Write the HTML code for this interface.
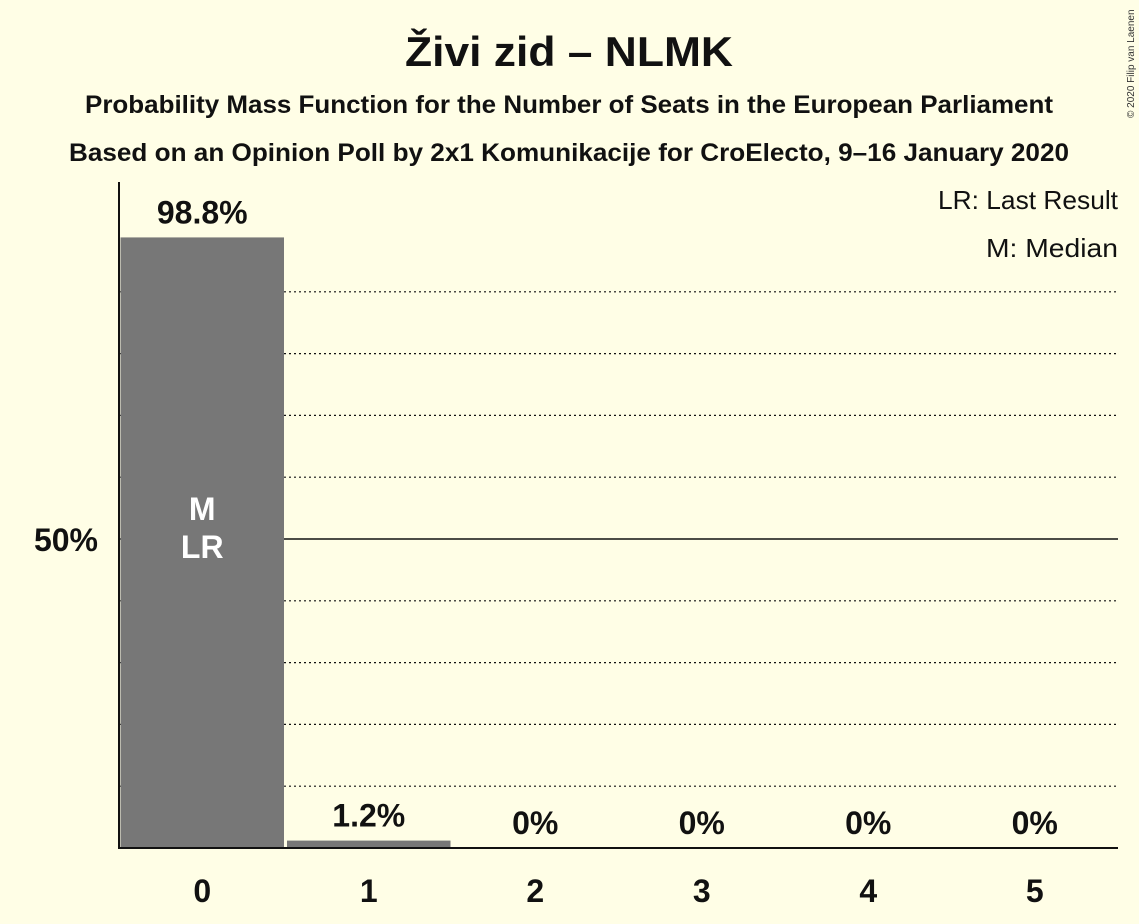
<!DOCTYPE html>
<html><head><meta charset="utf-8"><style>
body{margin:0;background:#fffee6;}
svg{display:block;font-family:"Liberation Sans",sans-serif;}
</style></head><body>
<svg id="chart" width="1139" height="924">
<rect width="1139" height="924" fill="#fffee6"/>
<text x="569" y="66" text-anchor="middle" font-size="42" font-weight="bold" fill="#111" textLength="328" lengthAdjust="spacingAndGlyphs">Živi zid – NLMK</text>
<text x="569" y="113" text-anchor="middle" font-size="25" font-weight="bold" fill="#111" textLength="968" lengthAdjust="spacingAndGlyphs">Probability Mass Function for the Number of Seats in the European Parliament</text>
<text x="569" y="161" text-anchor="middle" font-size="25" font-weight="bold" fill="#111" textLength="1000" lengthAdjust="spacingAndGlyphs">Based on an Opinion Poll by 2x1 Komunikacije for CroElecto, 9–16 January 2020</text>
<text x="1134" y="118" font-size="10" fill="#333" transform="rotate(-90 1134 118)">© 2020 Filip van Laenen</text>
<text x="1118" y="209" text-anchor="end" font-size="26" fill="#111" textLength="180" lengthAdjust="spacingAndGlyphs">LR: Last Result</text>
<text x="1118" y="257" text-anchor="end" font-size="26" fill="#111" textLength="132" lengthAdjust="spacingAndGlyphs">M: Median</text>
<g id="grid"></g>
<g id="bars"></g>
<line x1="119" y1="182" x2="119" y2="849" stroke="#111" stroke-width="2"/>
<line x1="118" y1="848" x2="1118" y2="848" stroke="#111" stroke-width="2"/>
<text x="98" y="551" text-anchor="end" font-size="32" font-weight="bold" fill="#111">50%</text>
</svg>
<script>
const categories=[0,1,2,3,4,5];
const values=[98.8,1.2,0,0,0,0];
const labels=["98.8%","1.2%","0%","0%","0%","0%"];
const gridTicks=[10,20,30,40,50,60,70,80,90];
const NS="http://www.w3.org/2000/svg";
const x0=119,x1=1118,yb=848,y50=539;
const bw=(x1-x0)/categories.length;
const y=v=>yb-(yb-y50)/50*v;
const g=document.getElementById('grid'),b=document.getElementById('bars');
gridTicks.forEach(t=>{
 const l=document.createElementNS(NS,'line');
 
 
 l.setAttribute('x1',x0);l.setAttribute('x2',x1);l.setAttribute('y1',y(t));l.setAttribute('y2',y(t));
 l.setAttribute('stroke','#111');
 if(t===50){l.setAttribute('stroke-width','1.5');}else{l.setAttribute('stroke-width','1.2');l.setAttribute('stroke-dasharray','2,3');}
 g.appendChild(l);
});
categories.forEach((c,i)=>{
 const cx=x0+bw*(i+0.5);
 const r=document.createElementNS(NS,'rect');
 
 
 r.setAttribute('x',x0+bw*i+1.5);r.setAttribute('width',bw-3);
 r.setAttribute('y',y(values[i]));r.setAttribute('height',yb-y(values[i]));
 r.setAttribute('fill','#777');
 b.appendChild(r);
 const t=document.createElementNS(NS,'text');
 
 
 t.setAttribute('x',cx);t.setAttribute('y',Math.min(y(values[i]),yb)-14);
 t.setAttribute('text-anchor','middle');t.setAttribute('font-size','32');t.setAttribute('font-weight','bold');t.setAttribute('fill','#111');
 t.textContent=labels[i];
 b.appendChild(t);
 const xt=document.createElementNS(NS,'text');
 
 
 xt.setAttribute('x',cx);xt.setAttribute('y',902);
 xt.setAttribute('text-anchor','middle');xt.setAttribute('font-size','32');xt.setAttribute('font-weight','bold');xt.setAttribute('fill','#111');
 xt.textContent=c;
 b.appendChild(xt);
});
const cx0=x0+bw*0.5;
[["M",520,"median-marker"],["LR",558,"last-result-marker"]].forEach(([s,yy,n])=>{
 const t=document.createElementNS(NS,'text');
 
 
 t.setAttribute('x',cx0);t.setAttribute('y',yy);t.setAttribute('text-anchor','middle');
 t.setAttribute('font-size','32');t.setAttribute('font-weight','bold');t.setAttribute('fill','#fff');
 t.textContent=s;b.appendChild(t);
});
</script>
</body></html>
